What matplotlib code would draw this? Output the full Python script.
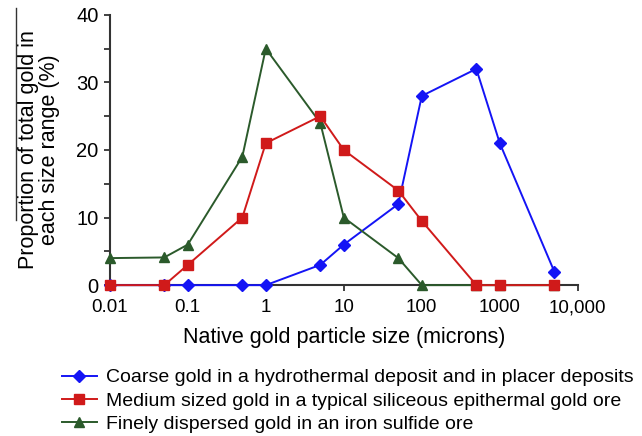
import matplotlib
matplotlib.use("Agg")
import matplotlib.pyplot as plt
from matplotlib.lines import Line2D
from matplotlib.ticker import FixedLocator, FixedFormatter, NullLocator

plt.rcParams['font.family'] = ['Liberation Sans', 'DejaVu Sans']

sizes = [0.01, 0.05, 0.1, 0.5, 1, 5, 10, 50, 100, 500, 1000, 5000]
coarse = [0, 0, 0, 0, 0, 3, 6, 12, 28, 32, 21, 2]
medium = [0, 0, 3, 10, 21, 25, 20, 14, 9.5, 0, 0, 0]
fine = [4, 4.1, 6, 19, 35, 24, 10, 4, 0, 0, 0, 0]

labels = ["Coarse gold in a hydrothermal deposit and in placer deposits",
          "Medium sized gold in a typical siliceous epithermal gold ore",
          "Finely dispersed gold in an iron sulfide ore"]
xticks = [0.01, 0.1, 1, 10, 100, 1000, 10000]
xticklabels = ["0.01", "0.1", "1", "10", "100", "1000", "10,000"]
yticks = [0, 10, 20, 30, 40]

fig = plt.figure(figsize=(6.42, 4.36), dpi=100)
ax = fig.add_axes([0.171, 0.346, 0.729, 0.62])

blue = "#1414f5"
red = "#d01a1a"
green = "#2b5a2b"

l1, = ax.plot(sizes, coarse, color=blue, marker="D", markersize=6.5, lw=1.4, clip_on=False, zorder=3)
l3, = ax.plot(sizes, fine, color=green, marker="^", markersize=7.5, lw=1.4, clip_on=False, zorder=4)
l2, = ax.plot(sizes, medium, color=red, marker="s", markersize=6.5, lw=1.4, clip_on=False, zorder=5)

ax.set_xscale("log")
ax.set_xlim(0.01, 10000)
ax.set_ylim(0, 40)
ax.xaxis.set_major_locator(FixedLocator(xticks))
ax.xaxis.set_major_formatter(FixedFormatter(xticklabels))
ax.xaxis.set_minor_locator(NullLocator())
ax.yaxis.set_major_locator(FixedLocator(yticks))
ax.yaxis.set_minor_locator(FixedLocator([5, 15, 25, 35]))

for s in ["top", "right"]:
    ax.spines[s].set_visible(False)
for s in ["left", "bottom"]:
    ax.spines[s].set_color("#333333")
    ax.spines[s].set_linewidth(1.5)

ax.tick_params(axis="both", which="both", length=4, width=1.3, color="#333333")
ax.tick_params(axis="x", which="major", labelsize=13.5, pad=6)
ax.tick_params(axis="y", which="major", labelsize=14.5, pad=4)

ax.set_xlabel("Native gold particle size (microns)", fontsize=15.5, labelpad=8)
ax.set_ylabel("Proportion of total gold in\neach size range (%)", fontsize=15.5, labelpad=12, linespacing=1.0)

fig.add_artist(Line2D([15.5/642, 15.5/642], [1-8/436, 1-220/436], color="#333333", lw=1.0))

fig.legend([l1, l2, l3], labels, loc="upper left", bbox_to_anchor=(0.084, 0.172), frameon=False,
           fontsize=14, handlelength=1.8, handletextpad=0.5, labelspacing=0.3, borderaxespad=0)

fig.savefig("out.png", dpi=100)
